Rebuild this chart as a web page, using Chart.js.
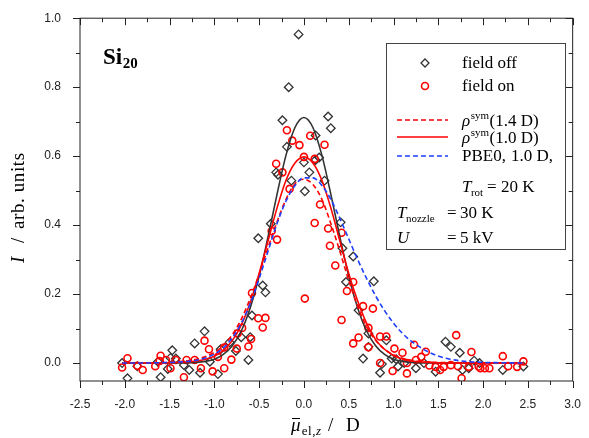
<!DOCTYPE html>
<html>
<head>
<meta charset="utf-8">
<script src="https://cdn.jsdelivr.net/npm/chart.js@4.4.0/dist/chart.umd.min.js"></script>
<style>
html,body{margin:0;padding:0;background:#fff;}
#wrap{width:589px;height:438px;}
</style>
</head>
<body>
<div id="wrap"><canvas id="chart"></canvas></div>
<script>
// measured points, field off (diamonds)
const offX = [-2.03,-1.97,-1.86,-1.63,-1.60,-1.52,-1.49,-1.47,-1.43,-1.34,-1.28,-1.22,-1.16,-1.11,-1.05,-0.96,-0.93,-0.83,-0.76,-0.70,
  -0.62,-0.60,-0.58,-0.51,-0.46,-0.43,-0.37,-0.31,-0.29,-0.24,-0.19,-0.17,-0.14,-0.06,0.00,0.01,0.06,0.13,0.13,0.17,
  0.23,0.27,0.30,0.41,0.43,0.47,0.55,0.61,0.66,0.72,0.72,0.78,0.85,0.87,0.92,0.98,1.03,1.05,1.12,1.25,
  1.34,1.47,1.58,1.64,1.74,1.77,1.84,1.90,1.96,2.22,2.45];
const offY = [0.000,-0.044,-0.009,0.004,-0.041,-0.017,0.015,0.037,0.013,-0.006,-0.020,0.057,-0.028,0.092,0.004,-0.032,0.040,0.060,0.035,0.075,
  0.009,0.075,0.138,0.362,0.225,0.205,0.404,0.553,0.546,0.704,0.627,0.800,0.529,0.953,0.582,0.498,0.553,0.660,0.589,0.596,
  0.529,0.715,0.681,0.408,0.333,0.235,0.309,0.153,0.013,0.086,0.047,0.237,-0.028,-0.003,0.066,0.013,0.011,-0.010,0.000,-0.015,
  0.000,-0.025,0.062,0.047,0.030,-0.020,-0.015,0.007,0.000,-0.020,-0.010];

// measured points, field on (circles)
const onX = [-2.03,-1.97,-1.86,-1.80,-1.66,-1.60,-1.61,-1.54,-1.49,-1.43,-1.34,-1.31,-1.22,-1.15,-1.11,-1.06,-1.02,-0.96,-0.89,-0.89,
  -0.81,-0.74,-0.75,-0.69,-0.62,-0.59,-0.58,-0.51,-0.46,-0.43,-0.36,-0.30,-0.31,-0.24,-0.19,-0.16,-0.13,-0.05,0.00,0.01,
  0.07,0.12,0.18,0.12,0.23,0.27,0.29,0.35,0.42,0.42,0.48,0.55,0.66,0.77,0.72,0.55,0.61,0.72,0.85,0.92,
  0.85,0.99,1.01,1.10,1.15,1.15,1.23,1.25,1.31,1.36,1.40,1.47,1.52,1.56,1.64,1.70,1.72,1.76,1.84,1.87,
  1.95,1.97,2.02,2.07,2.22,2.28,2.38,2.45];
const onY = [-0.013,0.014,-0.008,-0.020,-0.009,0.021,0.006,0.009,-0.015,0.009,-0.041,0.009,0.009,-0.015,0.065,0.040,-0.024,0.018,-0.015,0.045,
  0.010,0.086,0.042,0.102,0.048,0.070,0.203,0.130,0.103,0.131,0.383,0.358,0.578,0.553,0.675,0.505,0.645,0.632,0.598,0.187,
  0.659,0.592,0.460,0.406,0.633,0.390,0.340,0.283,0.378,0.125,0.209,0.235,0.165,0.158,0.102,0.057,0.074,0.046,0.077,0.077,
  0.000,-0.023,0.042,0.030,0.000,-0.030,0.053,0.009,0.018,0.033,-0.007,-0.011,-0.020,-0.011,-0.006,0.081,-0.009,-0.044,-0.011,0.032,
  -0.010,-0.015,-0.015,-0.015,0.020,-0.009,-0.011,0.005];

// fitted profiles
const fitX = [-2.03,-1.8,-1.6,-1.4,-1.2,-1.1,-1.0,-0.9,-0.8,-0.7,-0.6,-0.5,-0.4,-0.3,-0.2,-0.1,0,
  0.1,0.2,0.3,0.4,0.5,0.6,0.7,0.8,0.9,1.0,1.1,1.2,1.4,1.6,1.8,2.0,2.2,2.45];
const fitOff = [0,0,0,0,0.002,0.005,0.011,0.025,0.050,0.093,0.160,0.252,0.367,0.490,0.603,0.683,0.712,
  0.683,0.603,0.490,0.367,0.252,0.160,0.093,0.050,0.025,0.011,0.005,0.002,0,0,0,0,0,0];
const fitRho14 = [0,0,0.001,0.004,0.011,0.019,0.031,0.051,0.082,0.127,0.187,0.258,0.335,0.410,0.475,0.520,0.533,
  0.518,0.475,0.405,0.325,0.240,0.165,0.105,0.066,0.040,0.024,0.014,0.008,0.003,0.001,0,0,0,0];
const fitRho10 = [0,0,0,0.002,0.006,0.011,0.020,0.037,0.065,0.110,0.175,0.260,0.355,0.450,0.530,0.580,0.598,
  0.580,0.530,0.450,0.355,0.260,0.180,0.115,0.068,0.040,0.022,0.012,0.006,0.002,0,0,0,0,0];
const fitPBE0 = [0,0,0.001,0.003,0.008,0.015,0.026,0.044,0.073,0.115,0.172,0.245,0.325,0.405,0.470,0.515,0.537,
  0.537,0.515,0.475,0.420,0.360,0.300,0.245,0.195,0.152,0.116,0.086,0.063,0.031,0.013,0.005,0.002,0.001,0];

const xTicks = [-2.5,-2.0,-1.5,-1.0,-0.5,0.0,0.5,1.0,1.5,2.0,2.5,3.0];
const yTicks = [0.0,0.2,0.4,0.6,0.8,1.0];

const SERIF = '"Liberation Serif", "Times New Roman", serif';
const SANS = '"Liberation Sans", Arial, sans-serif';

function pts(xs, ys){ return xs.map((x,i)=>({x:x, y:ys[i]})); }

function txt(ctx, s, x, y, font){
  ctx.font = font;
  ctx.fillText(s, x, y);
  return x + ctx.measureText(s).width;
}

const decor = {
  id:'decor',
  afterDraw(chart){
    const ctx = chart.ctx, a = chart.chartArea;
    const xs = chart.scales.x, ys = chart.scales.y;
    ctx.save();
    ctx.strokeStyle = '#222';
    ctx.lineWidth = 1;
    // frame
    ctx.strokeRect(a.left, a.top, a.right - a.left, a.bottom - a.top);
    // x ticks: outward at bottom, inward at top
    ctx.beginPath();
    for(let i=0;i<=22;i++){
      const v = -2.5 + i*0.25;
      const px = Math.round(xs.getPixelForValue(v)) + 0.5;
      const len = (i%2===0) ? 7 : 4;
      ctx.moveTo(px, a.bottom); ctx.lineTo(px, a.bottom + len);
      ctx.moveTo(px, a.top); ctx.lineTo(px, a.top + len);
    }
    // y ticks: outward at left, inward at right
    for(let i=0;i<=10;i++){
      const v = i*0.1;
      const py = Math.round(ys.getPixelForValue(v)) + 0.5;
      const len = (i%2===0) ? 7 : 4;
      ctx.moveTo(a.left, py); ctx.lineTo(a.left - len, py);
      ctx.moveTo(a.right, py); ctx.lineTo(a.right - len, py);
    }
    ctx.stroke();

    ctx.fillStyle = '#000';
    ctx.textBaseline = 'alphabetic';
    ctx.textAlign = 'left';

    // Si20 label
    let x = txt(ctx, 'Si', 103, 64, 'bold 23px ' + SERIF);
    txt(ctx, '20', x + 0.5, 68, 'bold 15px ' + SERIF);

    // axis titles
    ctx.letterSpacing = '0.6px';
    x = txt(ctx, '\u03BC', 291, 431, 'italic 19px ' + SERIF);
    ctx.beginPath(); ctx.moveTo(292, 418.5); ctx.lineTo(300, 418.5); ctx.lineWidth = 1; ctx.strokeStyle='#000'; ctx.stroke();
    x = txt(ctx, 'el,', x + 0.5, 435, '13px ' + SERIF);
    x = txt(ctx, 'z', x, 435, 'italic 13px ' + SERIF);
    txt(ctx, '/', 328, 431, '19px ' + SERIF);
    txt(ctx, 'D', 346, 431, '19px ' + SERIF);

    ctx.save();
    ctx.translate(24, 0);
    ctx.rotate(-Math.PI/2);
    txt(ctx, 'I', -263, 0, 'italic 19px ' + SERIF);
    txt(ctx, '/', -243, 0, '19px ' + SERIF);
    txt(ctx, 'arb. units', -229, 0, '19px ' + SERIF);
    ctx.restore();
    ctx.letterSpacing = '0px';

    // legend box
    ctx.strokeStyle = '#444';
    ctx.lineWidth = 1;
    ctx.strokeRect(386.5, 43.5, 179, 206);

    // markers
    ctx.strokeStyle = '#333'; ctx.lineWidth = 1.3;
    ctx.beginPath();
    ctx.moveTo(425, 59); ctx.lineTo(429, 63); ctx.lineTo(425, 67); ctx.lineTo(421, 63); ctx.closePath();
    ctx.stroke();
    ctx.strokeStyle = '#ff0000'; ctx.lineWidth = 1.6;
    ctx.beginPath(); ctx.arc(425, 86, 3.5, 0, Math.PI*2); ctx.stroke();

    // line samples
    ctx.lineWidth = 1.6;
    ctx.strokeStyle = '#ff0000';
    ctx.setLineDash([5,3]);
    ctx.beginPath(); ctx.moveTo(397, 120); ctx.lineTo(448, 120); ctx.stroke();
    ctx.setLineDash([]);
    ctx.beginPath(); ctx.moveTo(397, 137); ctx.lineTo(448, 137); ctx.stroke();
    ctx.strokeStyle = '#1f3fff';
    ctx.setLineDash([5,3]);
    ctx.beginPath(); ctx.moveTo(397, 156); ctx.lineTo(448, 156); ctx.stroke();
    ctx.setLineDash([]);

    const F = '17px ' + SERIF, FI = 'italic 17px ' + SERIF, FS = '11px ' + SERIF;
    txt(ctx, 'field off', 462, 68, F);
    txt(ctx, 'field on', 462, 91, F);
    x = txt(ctx, '\u03C1', 462, 126, FI);
    x = txt(ctx, 'sym', x + 0.5, 119, FS);
    txt(ctx, '(1.4 D)', x + 0.5, 126, F);
    x = txt(ctx, '\u03C1', 462, 143, FI);
    x = txt(ctx, 'sym', x + 0.5, 136, FS);
    txt(ctx, '(1.0 D)', x + 0.5, 143, F);
    txt(ctx, 'PBE0,', 462, 161, F);
    txt(ctx, '1.0 D,', 511, 161, F);
    x = txt(ctx, 'T', 462, 192, FI);
    txt(ctx, 'rot', x - 0.5, 196, '11px ' + SERIF);
    txt(ctx, '=', 487, 192, F);
    txt(ctx, '20 K', 501, 192, F);
    x = txt(ctx, 'T', 397, 218, FI);
    txt(ctx, 'nozzle', x - 0.5, 222, '11px ' + SERIF);
    txt(ctx, '=', 447, 218, F);
    txt(ctx, '30 K', 460, 218, F);
    txt(ctx, 'U', 397, 243, FI);
    txt(ctx, '=', 447, 243, F);
    txt(ctx, '5 kV', 460, 243, F);
    ctx.restore();
  }
};

const lineBase = {type:'scatter', showLine:true, pointRadius:0, borderWidth:1.6, cubicInterpolationMode:'monotone', fill:false};

new Chart(document.getElementById('chart'), {
  type:'scatter',
  data:{
    datasets:[
      Object.assign({}, lineBase, {label:'PBE0', data:pts(fitX, fitPBE0), borderColor:'#1f3fff', borderDash:[5,3]}),
      Object.assign({}, lineBase, {label:'rho 1.4', data:pts(fitX, fitRho14), borderColor:'#ff0000', borderDash:[5,3]}),
      Object.assign({}, lineBase, {label:'rho 1.0', data:pts(fitX, fitRho10), borderColor:'#ff0000'}),
      Object.assign({}, lineBase, {label:'fit off', data:pts(fitX, fitOff), borderColor:'#333333'}),
      {label:'field on', data:pts(onX, onY), pointStyle:'circle', pointRadius:3.5, pointBorderWidth:1.6,
        borderColor:'#ff0000', backgroundColor:'rgba(0,0,0,0)'},
      {label:'field off', data:pts(offX, offY), pointStyle:'rectRot', pointRadius:4.3, pointBorderWidth:1.3,
        borderColor:'#333333', backgroundColor:'rgba(0,0,0,0)'}
    ]
  },
  options:{
    responsive:true,
    maintainAspectRatio:false,
    animation:false,
    events:[],
    layout:{padding:{top:16, right:1, left:0, bottom:0}},
    plugins:{legend:{display:false}, tooltip:{enabled:false}},
    scales:{
      x:{
        type:'linear', min:-2.5, max:3.0,
        grid:{display:false}, border:{display:false},
        afterBuildTicks(s){ s.ticks = xTicks.map(v=>({value:v})); },
        afterFit(s){ s.height = 57; },
        ticks:{padding:8, color:'#222', font:{family:SANS, size:12}, callback:v=>v.toFixed(1), maxRotation:0, autoSkip:false}
      },
      y:{
        type:'linear', min:-0.052, max:1.0,
        grid:{display:false}, border:{display:false},
        afterBuildTicks(s){ s.ticks = yTicks.map(v=>({value:v})); },
        afterFit(s){ s.width = 80; },
        ticks:{padding:11, color:'#222', font:{family:SANS, size:12}, callback:v=>v.toFixed(1), autoSkip:false}
      }
    }
  },
  plugins:[decor]
});
</script>
</body>
</html>
